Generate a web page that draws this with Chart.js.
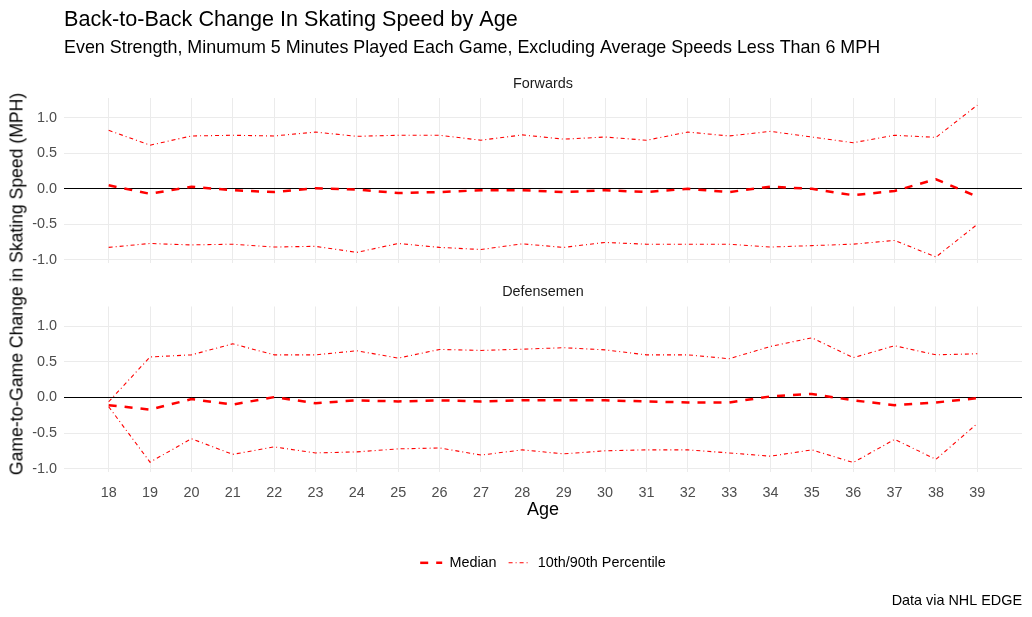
<!DOCTYPE html>
<html>
<head>
<meta charset="utf-8">
<script src="https://cdn.jsdelivr.net/npm/chart.js@4.4.1/dist/chart.umd.min.js"></script>
<style>
  body { margin: 0; background: #fff; font-family: "Liberation Sans", Arial, sans-serif; }
  #wrap { position: relative; width: 1032px; height: 617px; overflow: hidden; }
  #top { position: absolute; left: 0; top: 0; }
  #bottom { position: absolute; left: 0; top: 277px; }
  #ytitle { position: absolute; left: 17px; top: 284px; transform: translate(-50%, -50%) rotate(-90deg);
            white-space: nowrap; font-size: 17.6px; color: #000; }
</style>
</head>
<body>
<div id="wrap">
  <canvas id="top" width="1032" height="279"></canvas>
  <canvas id="bottom" width="1032" height="340"></canvas>
  <div id="ytitle">Game-to-Game Change in Skating Speed (MPH)</div>
</div>
<script>
const ages = [18, 19, 20, 21, 22, 23, 24, 25, 26, 27, 28, 29, 30, 31, 32, 33, 34, 35, 36, 37, 38, 39];
const xTickLabels = ages.map(String);
const yLabelled = [-1, -0.5, 0, 0.5, 1];

// forwards
const fwdMedian = [0.05, -0.07, 0.03, -0.02, -0.045, 0.01, -0.01, -0.06, -0.045, -0.02, -0.02,
                   -0.045, -0.02, -0.045, 0.0, -0.045, 0.03, 0.0, -0.09, -0.03, 0.135, -0.11];
const fwdUpper = [0.825, 0.615, 0.745, 0.755, 0.745, 0.80, 0.74, 0.755, 0.755, 0.685, 0.76,
                  0.70, 0.73, 0.685, 0.80, 0.745, 0.81, 0.73, 0.65, 0.755, 0.725, 1.18];
const fwdLower = [-0.825, -0.77, -0.79, -0.78, -0.82, -0.81, -0.895, -0.77, -0.825, -0.855, -0.775,
                  -0.825, -0.755, -0.78, -0.78, -0.78, -0.82, -0.80, -0.78, -0.727, -0.96, -0.50];

// defensemen
const defMedian = [-0.108, -0.17, -0.023, -0.10, 0.005, -0.08, -0.04, -0.056, -0.04, -0.056, -0.04,
                   -0.04, -0.04, -0.056, -0.07, -0.07, 0.015, 0.05, -0.04, -0.108, -0.07, -0.01];
const defUpper = [-0.06, 0.57, 0.60, 0.755, 0.60, 0.60, 0.657, 0.554, 0.676, 0.662, 0.68,
                  0.70, 0.67, 0.60, 0.60, 0.545, 0.718, 0.84, 0.56, 0.728, 0.60, 0.615];
const defLower = [-0.13, -0.91, -0.58, -0.80, -0.695, -0.78, -0.765, -0.723, -0.71, -0.81, -0.737,
                  -0.793, -0.75, -0.737, -0.737, -0.78, -0.826, -0.737, -0.915, -0.59, -0.87, -0.366];

const FONT = '"Liberation Sans", Arial, sans-serif';
const SMALL = 14.4;
Chart.defaults.font.family = FONT;
Chart.defaults.color = '#000';

function pts(vals) {
    return ages.map((a, i) => ({x: a, y: vals[i]}));
}

function lineSets(med, up, lo) {
    const pct = {borderColor: '#ff0000', borderWidth: 1.1, borderDash: [4, 3, 1, 3], pointRadius: 0, tension: 0};
    return [
        {label: 'Median', data: pts(med), borderColor: '#ff0000', borderWidth: 2.5, borderDash: [8, 8], pointRadius: 0, tension: 0},
        Object.assign({label: '10th/90th Percentile', data: pts(up)}, pct),
        Object.assign({label: '10th/90th Percentile low', data: pts(lo)}, pct)
    ];
}

// facet strip text above each panel
const stripLabel = {
    id: 'stripLabel',
    afterDraw(chart, args, opts) {
        const {ctx, chartArea} = chart;
        ctx.save();
        ctx.font = SMALL + 'px ' + FONT;
        ctx.fillStyle = '#1a1a1a';
        ctx.textAlign = 'center';
        ctx.textBaseline = 'middle';
        ctx.fillText(opts.text, (chartArea.left + chartArea.right) / 2, chartArea.top - 14);
        ctx.restore();
    }
};

function makeScales(showX) {
    return {
        x: {
            type: 'linear',
            min: 16.92,
            max: 40.08,
            afterBuildTicks: s => { s.ticks = ages.map(v => ({value: v})); },
            afterFit: s => { s.height = showX ? 71.5 : 13; },
            grid: {color: '#ebebeb', lineWidth: 1, drawTicks: false},
            border: {display: false},
            ticks: {
                display: showX,
                font: {size: SMALL},
                color: '#4d4d4d',
                padding: 12,
                maxRotation: 0,
                callback: v => xTickLabels[ages.indexOf(v)]
            },
            title: {
                display: showX,
                text: 'Age',
                font: {size: 18},
                color: '#000',
                padding: {top: 0, bottom: 22.5}
            }
        },
        y: {
            min: -1.05,
            max: 1.28,
            afterFit: s => { s.width = 64; },
            grid: {
                drawTicks: false,
                lineWidth: 1,
                color: c => (c.tick && Math.abs(c.tick.value) < 1e-9) ? '#000000' : '#ebebeb'
            },
            border: {display: false},
            ticks: {
                stepSize: 0.25,
                includeBounds: false,
                font: {size: SMALL},
                color: '#4d4d4d',
                padding: 7,
                callback: v => yLabelled.some(t => Math.abs(t - v) < 1e-9) ? v.toFixed(1) : ''
            }
        }
    };
}

new Chart(document.getElementById('top'), {
    type: 'line',
    data: {datasets: lineSets(fwdMedian, fwdUpper, fwdLower)},
    plugins: [stripLabel],
    options: {
        responsive: false,
        animation: false,
        events: [],
        layout: {padding: {left: 0, right: 10, top: 0, bottom: 0}},
        scales: makeScales(false),
        plugins: {
            legend: {display: false},
            tooltip: {enabled: false},
            title: {
                display: true,
                text: 'Back-to-Back Change In Skating Speed by Age',
                align: 'start',
                fullSize: false,
                color: '#000',
                font: {size: 21.6, weight: 'normal'},
                padding: {top: 7, bottom: 0}
            },
            subtitle: {
                display: true,
                text: 'Even Strength, Minumum 5 Minutes Played Each Game, Excluding Average Speeds Less Than 6 MPH',
                align: 'start',
                fullSize: false,
                color: '#000',
                font: {size: 17.9, weight: 'normal'},
                padding: {top: 4, bottom: 39.6}
            },
            stripLabel: {text: 'Forwards'}
        }
    }
});

new Chart(document.getElementById('bottom'), {
    type: 'line',
    data: {datasets: lineSets(defMedian, defUpper, defLower)},
    plugins: [stripLabel],
    options: {
        responsive: false,
        animation: false,
        events: [],
        layout: {padding: {left: 0, right: 10, top: 29.5, bottom: 7.1}},
        scales: makeScales(true),
        plugins: {
            tooltip: {enabled: false},
            legend: {
                display: true,
                position: 'bottom',
                fullSize: false,
                labels: {
                    usePointStyle: true,
                    pointStyleWidth: 22,
                    padding: 12,
                    color: '#000',
                    font: {size: SMALL},
                    generateLabels: () => [
                        {text: 'Median', strokeStyle: '#ff0000', fillStyle: '#ff0000', lineWidth: 2.5,
                         lineDash: [8, 8], pointStyle: 'line', fontColor: '#000', datasetIndex: 0},
                        {text: '10th/90th Percentile', strokeStyle: '#ff0000', fillStyle: '#ff0000', lineWidth: 1.1,
                         lineDash: [4, 3, 1, 3], pointStyle: 'line', fontColor: '#000', datasetIndex: 1}
                    ]
                }
            },
            title: {
                display: true,
                text: 'Data via NHL EDGE',
                position: 'bottom',
                align: 'end',
                fullSize: false,
                color: '#000',
                font: {size: SMALL, weight: 'normal'},
                padding: {top: 12.6, bottom: 0}
            },
            stripLabel: {text: 'Defensemen'}
        }
    }
});
</script>
</body>
</html>
